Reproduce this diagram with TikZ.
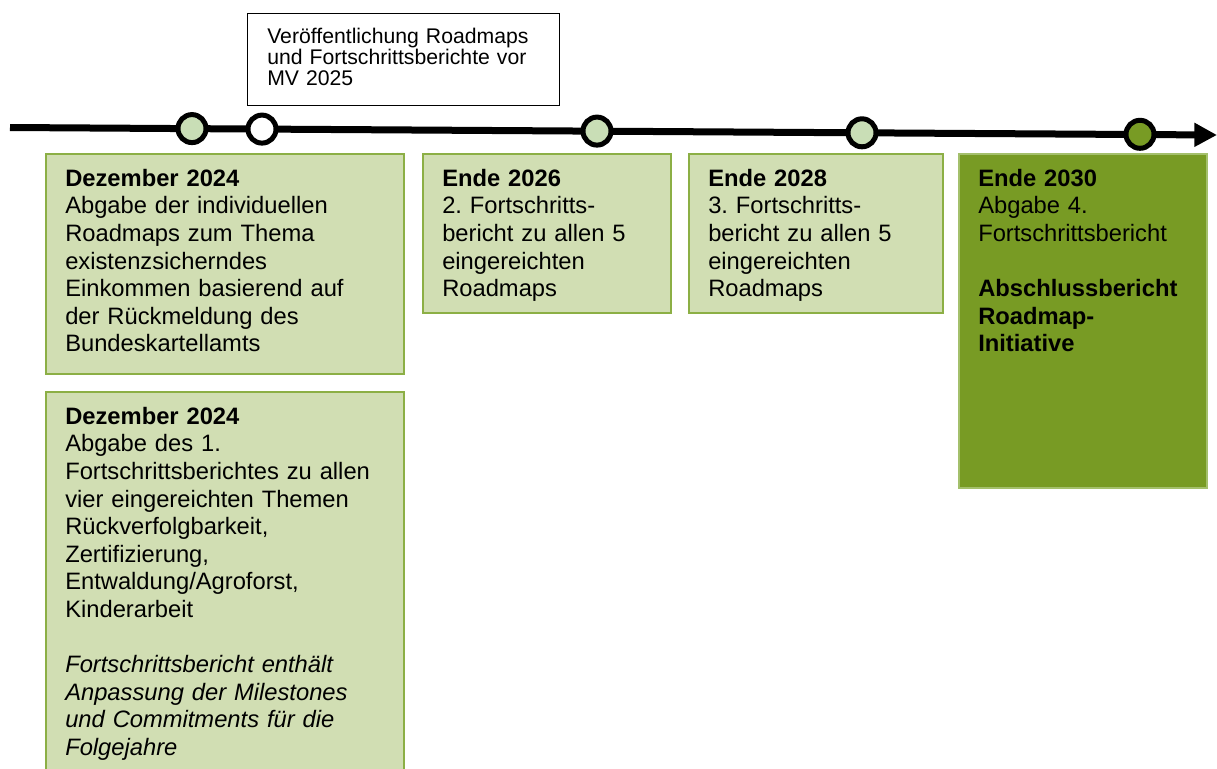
\documentclass[tikz,border=0pt]{standalone}
\usepackage{fontspec}
\setmainfont{Liberation Sans}
\usetikzlibrary{positioning,arrows.meta}
\frenchspacing

\definecolor{panelfill}{HTML}{D1DEB3}
\definecolor{panelborder}{HTML}{8CAF45}
\definecolor{darkfill}{HTML}{789B24}
\definecolor{darkborder}{HTML}{A4C06C}
\definecolor{dotfill}{HTML}{C9DEB6}

\begin{document}
\begin{tikzpicture}[
  x=0.75pt, y=-0.75pt,
  every node/.style={font=\fontsize{17.8pt}{20.7pt}\selectfont, align=left},
  panel/.style={draw=panelborder, fill=panelfill, line width=1.5pt, rectangle, anchor=north west, inner sep=0pt},
  finalpanel/.style={panel, draw=darkborder, fill=darkfill},
  paneltext/.style={anchor=north west, inner xsep=15pt, inner ysep=11.8pt, text width=240pt},
  note/.style={draw, fill=white, line width=0.75pt, rectangle, anchor=north west, inner sep=0pt},
  notetext/.style={paneltext, inner ysep=10.9pt, font=\fontsize{15.9pt}{15.75pt}\selectfont},
  milestone/.style={draw, circle, line width=3.75pt, minimum size=21pt, inner sep=0pt, fill=dotfill},
  timeline/.style={line width=5.25pt, -{Triangle[length=17pt, width=17pt]}}
]
\useasboundingbox (0,0) rectangle (1217,768);

% Timeline
\coordinate (tlstart) at (10,127.5);
\coordinate (tlend) at (1217,135);
\draw[timeline] (tlstart) -- (tlend);

% Milestones on the line
\node[milestone] (m1) at (192,128.6) {};
\node[milestone, fill=white] (m2) at (262,129.1) {};
\node[milestone] (m3) at (597,131.1) {};
\node[milestone] (m4) at (862,132.8) {};
\node[milestone, fill=darkfill] (m5) at (1140,134.3) {};

% Note above the line
\node[note, minimum width=234pt, minimum height=69pt] (Pub) at (247,13) {};
\node[notetext] (Pub-t) at (Pub.north west) {Veröffentlichung Roadmaps\\und Fortschrittsberichte vor\\MV 2025};

% Panels: December 2024
\node[panel, minimum width=268.5pt, minimum height=165pt] (D24a) at (45,153) {};
\node[paneltext] (D24a-t) at (D24a.north west) {\textbf{Dezember 2024}\\Abgabe der individuellen\\Roadmaps zum Thema\\existenzsicherndes\\Einkommen basierend auf\\der Rückmeldung des\\Bundeskartellamts};

\node[panel, minimum width=268.5pt, minimum height=300pt] (D24b) at (45,391) {};
\node[paneltext] (D24b-t) at (D24b.north west) {\textbf{Dezember 2024}\\Abgabe des 1.\\Fortschrittsberichtes zu allen\\vier eingereichten Themen\\Rückverfolgbarkeit,\\Zertifizierung,\\Entwaldung/Agroforst,\\Kinderarbeit\\[20.7pt]\textit{Fortschrittsbericht enthält}\\\textit{Anpassung der Milestones}\\\textit{und Commitments für die}\\\textit{Folgejahre}};

% Panels: 2026 and 2028
\node[panel, minimum width=186pt, minimum height=119.25pt] (E26) at (422,153) {};
\node[paneltext] (E26-t) at (E26.north west) {\textbf{Ende 2026}\\2. Fortschritts-\\bericht zu allen 5\\eingereichten\\Roadmaps};

\node[panel, minimum width=190.5pt, minimum height=119.25pt] (E28) at (688,153) {};
\node[paneltext] (E28-t) at (E28.north west) {\textbf{Ende 2028}\\3. Fortschritts-\\bericht zu allen 5\\eingereichten\\Roadmaps};

% Panel: final report 2030
\node[finalpanel, minimum width=186pt, minimum height=250.5pt] (E30) at (958,153) {};
\node[paneltext] (E30-t) at (E30.north west) {\textbf{Ende 2030}\\Abgabe 4.\\Fortschrittsbericht\\[20.7pt]\textbf{Abschlussbericht}\\\textbf{Roadmap-}\\\textbf{Initiative}};

\end{tikzpicture}
\end{document}
